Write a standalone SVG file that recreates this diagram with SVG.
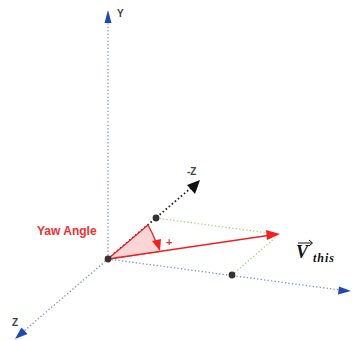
<svg xmlns="http://www.w3.org/2000/svg" width="352" height="340" viewBox="0 0 352 340">
<style>
.axis{stroke:#7f8fc8;stroke-width:1.3;stroke-dasharray:1.3 2.2;fill:none}
.negz{stroke:#222;stroke-width:1.8;stroke-dasharray:1.6 2.4;fill:none}
.guide{stroke:#a8cf78;stroke-width:1.2;stroke-dasharray:1.3 2.2;fill:none}
.lbl{font-family:"Liberation Sans",Arial,sans-serif;font-weight:bold;fill:#444}
.dot{fill:#333}
.ah{fill:#1f48b0}
</style>
<rect width="352" height="340" fill="#fff"/>
<g id="connectors">
<line class="axis" x1="108" y1="259" x2="108" y2="22"/>
<polygon class="ah" points="108,10 104.5,23 111.5,23"/>
<line class="axis" x1="108" y1="259" x2="340" y2="290"/>
<polygon class="ah" points="351,291 339,286.5 338,294.5"/>
<line class="axis" x1="108" y1="259" x2="24" y2="331"/>
<polygon class="ah" points="15,339 21.5,327.5 27.5,334"/>
<line class="negz" x1="108" y1="259" x2="192" y2="187"/>
<polygon points="200,180 187,185 195,194" fill="#111"/>
<line class="guide" x1="156" y1="218" x2="276" y2="234"/>
<line class="guide" x1="232" y1="275" x2="276" y2="237"/>
<line x1="108" y1="259" x2="268" y2="235.5" stroke="#f02020" stroke-width="1.3"/>
<polygon points="280,234 266,230 267,240" fill="#f02020"/>
</g>
<g id="wedge">
<path d="M108,259 L148,225 Q156,237 160,251 Z" fill="#fcd6d6" stroke="none"/>
<path d="M108,259 L148,225 Q152,232 156,242" fill="none" stroke="#f02020" stroke-width="1.3"/>
<line x1="108" y1="259" x2="160" y2="251.4" stroke="#f02020" stroke-width="1.3"/>
<polygon points="160,251 152,241 161,239" fill="#f02020"/>
<text x="166" y="246" font-family="Liberation Sans,Arial,sans-serif" font-weight="bold" font-size="11" fill="#f03030">+</text>
</g>
<g id="points">
<circle class="dot" cx="108" cy="259" r="3.4"/>
<circle class="dot" cx="156" cy="218" r="3.4"/>
<circle class="dot" cx="232" cy="275" r="3.4"/>
</g>
<g id="labels">
<text class="lbl" x="117" y="17" font-size="10">Y</text>
<text class="lbl" x="187" y="175" font-size="10" fill="#222">-Z</text>
<text class="lbl" x="12" y="326" font-size="10">Z</text>
<text x="37" y="235" font-family="Liberation Sans,Arial,sans-serif" font-weight="bold" font-size="12" fill="#f03030">Yaw Angle</text>
<g id="vthis">
<text x="296" y="258" font-family="Liberation Serif,Times New Roman,serif" font-weight="bold" font-style="italic" font-size="18" fill="#111">V</text>
<text x="313" y="262" font-family="Liberation Serif,Times New Roman,serif" font-weight="bold" font-style="italic" font-size="12" fill="#111" letter-spacing="1">this</text>
<line x1="298" y1="243" x2="312" y2="243" stroke="#111" stroke-width="1"/>
<path d="M309,240 L312.5,243 L309,246" fill="none" stroke="#111" stroke-width="1"/>
</g>
</g>
</svg>
